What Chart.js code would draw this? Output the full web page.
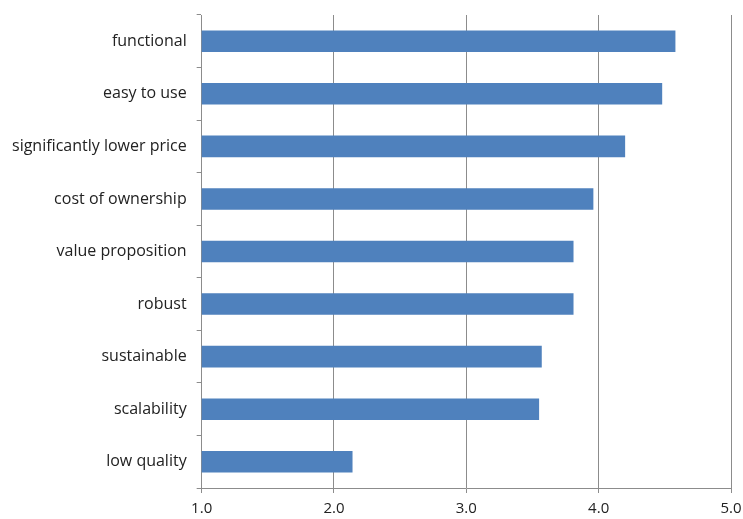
<!DOCTYPE html>
<html>
<head>
<meta charset="utf-8">
<script src="https://cdn.jsdelivr.net/npm/chart.js@4/dist/chart.umd.min.js"></script>
<style>
  html, body { margin: 0; padding: 0; background: #fff; }
  #wrap { width: 743px; height: 519px; }
</style>
</head>
<body>
<div id="wrap"><canvas id="chart"></canvas></div>
<script>
const categories = ['functional', 'easy to use', 'significantly lower price', 'cost of ownership',
  'value proposition', 'robust', 'sustainable', 'scalability', 'low quality']
const scores = [4.58, 4.48, 4.20, 3.96, 3.81, 3.81, 3.57, 3.55, 2.14]
const xTicks = [1, 2, 3, 4, 5]

const font = {family: "'Open Sans', 'Noto Sans', sans-serif", size: 16}
const xFont = {family: "'Open Sans', 'Noto Sans', sans-serif", size: 15}

const chart = new Chart(
  document.getElementById('chart'),
  {
    type: 'bar',
    data: {
      labels: categories,
      datasets: [
        {
          label: 'Score',
          data: scores,
          backgroundColor: '#4F81BD',
          categoryPercentage: 1,
          barPercentage: 0.41
        }
      ]
    },
    options: {
      indexAxis: 'y',
      responsive: true,
      maintainAspectRatio: false,
      animation: false,
      layout: {
        padding: {top: 0, right: 0, left: 2, bottom: 0}
      },
      plugins: {
        legend: {display: false},
        tooltip: {enabled: false}
      },
      scales: {
        x: {
          min: 1,
          max: 5,
          afterBuildTicks: axis => {
            axis.ticks = xTicks.map(v => ({value: v}))
          },
          // keep the 5.0 label close to the right edge, axis near the bottom
          afterFit: axis => {
            axis.paddingRight = 12
            axis.height = 31
          },
          ticks: {
            color: '#222',
            font: xFont,
            padding: 7,
            callback: v => v.toFixed(1)
          },
          grid: {
            color: '#8c8c8c',
            tickLength: 5
          },
          border: {color: '#8c8c8c'}
        },
        y: {
          afterFit: axis => {
            axis.paddingTop = 15
          },
          ticks: {
            color: '#222',
            font: font,
            padding: 10
          },
          grid: {
            drawOnChartArea: false,
            color: '#8c8c8c',
            tickLength: 5
          },
          border: {color: '#8c8c8c'}
        }
      }
    }
  }
)
</script>
</body>
</html>
